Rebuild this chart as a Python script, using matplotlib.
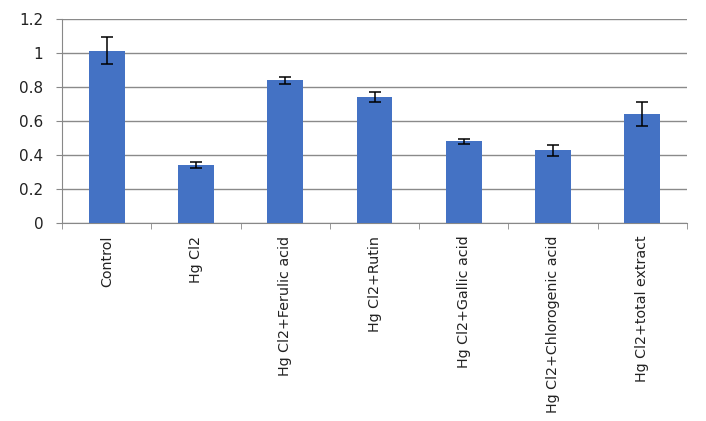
import matplotlib
matplotlib.use("Agg")
import matplotlib.pyplot as plt
import numpy as np

categories = ["Control", "Hg Cl2", "Hg Cl2+Ferulic acid", "Hg Cl2+Rutin",
              "Hg Cl2+Gallic acid", "Hg Cl2+Chlorogenic acid", "Hg Cl2+total extract"]
values = [1.015, 0.343, 0.840, 0.742, 0.482, 0.428, 0.642]
errors = [0.080, 0.016, 0.021, 0.030, 0.016, 0.033, 0.071]
yticks = [0, 0.2, 0.4, 0.6, 0.8, 1, 1.2]
ytick_labels = ["0", "0.2", "0.4", "0.6", "0.8", "1", "1.2"]

plt.rcParams['font.family'] = ['DejaVu Sans']
fig = plt.figure(figsize=(7.06, 4.21), dpi=100)
ax = fig.add_axes([0.088, 0.470, 0.885, 0.484])

x = np.arange(len(categories))
ax.bar(x, values, width=0.4, color='#4472C4', zorder=3)
ax.errorbar(x, values, yerr=errors, fmt='none', ecolor='black', elinewidth=1.1,
            capsize=4.5, capthick=1.1, zorder=4)

ax.set_ylim(0, 1.2)
ax.set_xlim(-0.5, len(categories) - 0.5)
ax.set_yticks(yticks)
ax.set_yticklabels(ytick_labels, fontsize=11, color='#222222')
ax.yaxis.grid(True, color='#8a8a8a', linewidth=1.0, zorder=0)

ax.set_xticks(x)
ax.set_xticklabels(categories, rotation=90, fontsize=10.3, color='#222222')
ax.tick_params(axis='x', length=0, pad=9)
ax.set_xticks(np.arange(len(categories) + 1) - 0.5, minor=True)
ax.tick_params(axis='x', which='minor', length=4.5, color='#888888')
ax.tick_params(axis='y', length=4.5, color='#888888', pad=9)

for s in ['top', 'right']:
    ax.spines[s].set_visible(False)
for s in ['left', 'bottom']:
    ax.spines[s].set_color('#888888')

fig.savefig("out.png", dpi=100)
